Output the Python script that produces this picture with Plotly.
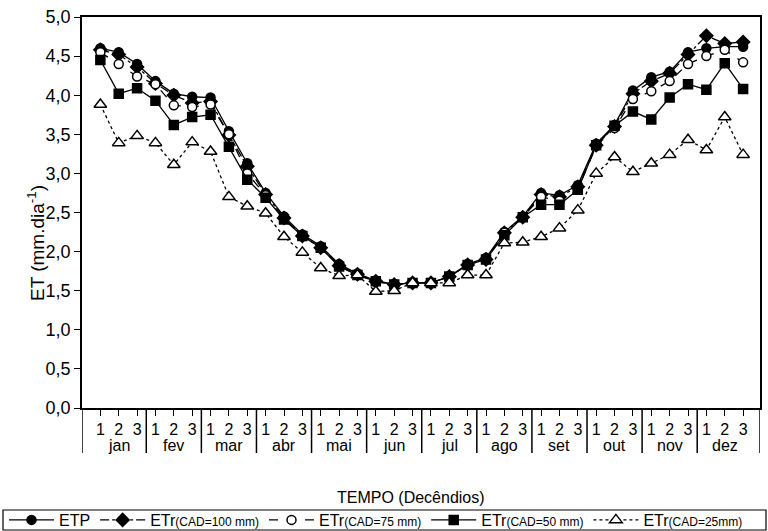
import plotly.graph_objects as go

# Ten-day periods (decêndios): three per month
months = ["jan", "fev", "mar", "abr", "mai", "jun", "jul", "ago", "set", "out", "nov", "dez"]
decendio_labels = ["1", "2", "3"] * len(months)
decendio = list(range(1, 3 * len(months) + 1))

# Evapotranspiration, mm/day
etp = [4.60, 4.55, 4.40, 4.18, 4.02, 3.98, 3.97, 3.54, 3.13, 2.75, 2.45, 2.22,
       2.07, 1.84, 1.72, 1.63, 1.58, 1.60, 1.60, 1.68, 1.84, 1.92, 2.25, 2.45,
       2.75, 2.72, 2.85, 3.38, 3.62, 4.06, 4.23, 4.30, 4.55, 4.60, 4.62, 4.62]
etr_100 = [4.58, 4.52, 4.36, 4.15, 4.00, 3.90, 3.92, 3.49, 3.09, 2.73, 2.43, 2.20,
           2.05, 1.82, 1.71, 1.62, 1.58, 1.60, 1.60, 1.68, 1.83, 1.90, 2.24, 2.44,
           2.73, 2.70, 2.83, 3.36, 3.60, 4.02, 4.18, 4.28, 4.52, 4.76, 4.66, 4.68]
etr_75 = [4.55, 4.40, 4.24, 4.14, 3.87, 3.85, 3.88, 3.50, 3.00, 2.72, 2.42, 2.20,
          2.05, 1.82, 1.70, 1.62, 1.57, 1.60, 1.60, 1.68, 1.83, 1.90, 2.24, 2.44,
          2.70, 2.65, 2.80, 3.35, 3.58, 3.95, 4.05, 4.18, 4.40, 4.50, 4.58, 4.42]
etr_50 = [4.45, 4.02, 4.09, 3.93, 3.62, 3.72, 3.75, 3.34, 2.92, 2.69, 2.41, 2.20,
          2.05, 1.81, 1.70, 1.62, 1.58, 1.60, 1.60, 1.68, 1.83, 1.90, 2.21, 2.44,
          2.60, 2.60, 2.79, 3.36, 3.61, 3.79, 3.69, 3.97, 4.14, 4.07, 4.41, 4.08]
etr_25 = [3.88, 3.39, 3.48, 3.39, 3.11, 3.40, 3.28, 2.70, 2.58, 2.49, 2.19, 1.99,
          1.79, 1.69, 1.70, 1.49, 1.50, 1.60, 1.60, 1.60, 1.70, 1.70, 2.11, 2.12,
          2.19, 2.30, 2.53, 3.00, 3.21, 3.02, 3.13, 3.24, 3.43, 3.30, 3.72, 3.24]

FONT = "Liberation Sans, Arial, sans-serif"
small = "<span style='font-size:12px'>"

# name, values, line dash, marker symbol, marker fill, marker size
series = [
    ("ETP", etp, "solid", "circle", "black", 9),
    ("ETr" + small + "(CAD=100 mm)</span>", etr_100, "dashdot", "diamond", "black", 10),
    ("ETr" + small + "(CAD=75 mm)</span>", etr_75, "dash", "circle", "white", 9),
    ("ETr" + small + "(CAD=50 mm)</span>", etr_50, "solid", "square", "black", 9),
    ("ETr" + small + "(CAD=25mm)</span>", etr_25, "dot", "triangle-up", "white", 11),
]

fig = go.Figure()
for name, vals, dash, symbol, fill, size in series:
    fig.add_trace(go.Scatter(
        x=decendio, y=vals, name=name, mode="lines+markers",
        line=dict(color="black", width=1.3, dash=dash),
        marker=dict(symbol=symbol, size=size, color=fill,
                    line=dict(color="black", width=1.5)),
    ))

x_right = 36.92
L, R, T, B = 82, 8, 17, 123
W, H = 768, 531
pw, ph = W - L - R, H - T - B


def px_to_paper_x(px):
    return (px - L) / pw


def px_to_paper_y(py):
    return (H - B - py) / ph


shapes = []
# month separators below the axis
sep_bottom = px_to_paper_y(453)
for k in range(len(months) + 1):
    xv = 3 * k + 0.5 if 0 < k < len(months) else (0 if k == 0 else x_right)
    shapes.append(dict(type="line", xref="x", yref="paper", x0=xv, x1=xv,
                       y0=0, y1=sep_bottom, line=dict(color="black", width=1.5)))
# legend frame
shapes.append(dict(type="rect", xref="paper", yref="paper",
                   x0=px_to_paper_x(3), x1=px_to_paper_x(766),
                   y0=px_to_paper_y(530), y1=px_to_paper_y(510),
                   line=dict(color="black", width=1.2)))

annotations = []
for m, name in enumerate(months):
    annotations.append(dict(x=3 * m + 2, y=px_to_paper_y(446), xref="x", yref="paper",
                            text=name, showarrow=False, yanchor="middle",
                            font=dict(family=FONT, size=16, color="black")))
annotations.append(dict(x=px_to_paper_x(411), y=px_to_paper_y(497), xref="paper", yref="paper",
                        text="TEMPO (Decêndios)", showarrow=False, yanchor="middle",
                        font=dict(family=FONT, size=16, color="black")))
annotations.append(dict(x=px_to_paper_x(22), y=px_to_paper_y(243), xref="paper", yref="paper",
                        text="ET (mm.dia<sup>-1</sup>)", showarrow=False, textangle=-90,
                        font=dict(family=FONT, size=19, color="black")))

fig.update_layout(
    width=W, height=H,
    margin=dict(l=L, r=R, t=T, b=B, autoexpand=False),
    paper_bgcolor="white", plot_bgcolor="white",
    separators=",.",
    font=dict(family=FONT, color="black"),
    showlegend=True,
    legend=dict(orientation="h", x=px_to_paper_x(4), y=px_to_paper_y(520),
                xanchor="left", yanchor="middle",
                font=dict(family=FONT, size=16, color="black"),
                bgcolor="rgba(0,0,0,0)", itemwidth=45, tracegroupgap=0),
    shapes=shapes,
    annotations=annotations,
)
fig.update_xaxes(range=[0, x_right], tickmode="array", tickvals=decendio,
                 ticktext=decendio_labels, ticks="outside", ticklen=6, tickwidth=1.3,
                 tickcolor="black", showline=True, linecolor="black", linewidth=1.5,
                 mirror=True, showgrid=False, zeroline=False,
                 tickfont=dict(family=FONT, size=16, color="black"))
fig.update_yaxes(range=[0, 5], dtick=0.5, tickformat=".1f", ticks="outside", ticklen=6,
                 tickwidth=1.3, tickcolor="black", showline=True, linecolor="black",
                 linewidth=1.5, mirror=True, showgrid=False, zeroline=False,
                 tickfont=dict(family=FONT, size=18, color="black"))

fig.write_html("out.html")
